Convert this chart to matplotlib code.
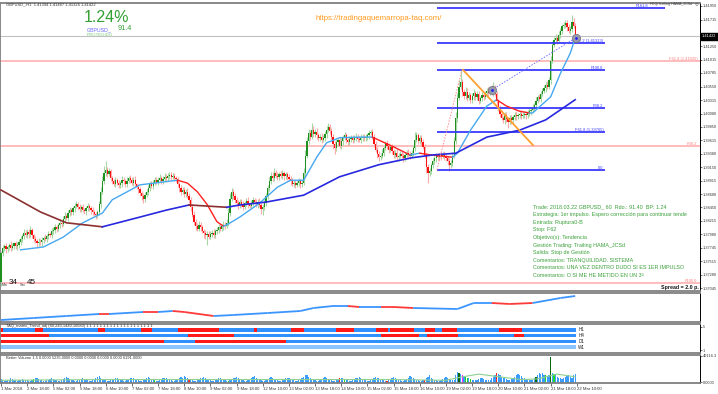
import matplotlib
matplotlib.use("Agg")
import matplotlib.pyplot as plt
from matplotlib.collections import LineCollection
import matplotlib.transforms as mtransforms

plt.rcParams['font.family'] = ['Liberation Sans', 'DejaVu Sans']

# ---------------- DATA ----------------
BASE = 1.37      # prices stored as pips above 1.37000
PIP = 0.0001

first_open = 15
close_rows = [
    [65, 74, 78, 72, 76, 80, 75, 78, 82, 77, 80, 84, 90, 95, 100, 97],
    [102, 98, 105, 96, 90, 86, 83, 85, 84, 88, 92, 90, 95, 99, 97, 103],
    [106, 110, 108, 114, 118, 116, 124, 130, 127, 135, 140, 136, 143, 148, 150, 146],
    [142, 145, 140, 138, 143, 147, 144, 140, 136, 134, 131, 136, 150, 172, 190, 205],
    [210, 203, 208, 196, 190, 186, 192, 188, 183, 187, 193, 190, 186, 191, 196, 192],
    [188, 193, 185, 180, 176, 170, 165, 160, 166, 172, 178, 185, 182, 188, 192, 189],
    [193, 196, 191, 195, 198, 196, 199, 201, 198, 200, 196, 194, 185, 178, 172, 175],
    [168, 172, 165, 158, 145, 132, 120, 112, 108, 115, 110, 104, 100, 96, 99, 94],
    [98, 101, 97, 103, 106, 110, 108, 112, 115, 113, 118, 135, 160, 172, 165, 158],
    [152, 148, 155, 150, 146, 152, 156, 150, 148, 153, 157, 154, 150, 155, 149, 142],
    [145, 152, 165, 178, 190, 200, 196, 205, 200, 198, 203, 200, 204, 199, 202, 198],
    [195, 190, 186, 188, 184, 187, 190, 185, 188, 205, 235, 260, 275, 268, 280, 272],
    [276, 270, 265, 268, 262, 266, 272, 280, 285, 278, 268, 255, 248, 258, 262, 252],
    [260, 266, 270, 262, 258, 263, 266, 262, 265, 268, 264, 262, 266, 268, 265, 267],
    [270, 274, 276, 268, 255, 245, 238, 232, 235, 240, 248, 256, 252, 245, 250, 242],
    [236, 240, 232, 235, 238, 234, 230, 236, 240, 238, 235, 240, 248, 262, 270, 260],
    [266, 258, 250, 235, 215, 205, 208, 218, 226, 230, 234, 232, 236, 234, 237, 233],
    [230, 225, 218, 222, 235, 260, 300, 335, 355, 362, 345, 338, 346, 335, 340, 332],
    [338, 344, 336, 342, 330, 335, 340, 337, 343, 348, 344, 350, 345, 352, 342, 330],
    [318, 308, 300, 296, 305, 298, 294, 300, 296, 302, 306, 303, 305, 308, 304, 306],
    [308, 305, 309, 312, 315, 318, 322, 330, 336, 334, 342, 348, 352, 358, 355, 366],
    [400, 428, 436, 440, 434, 445, 452, 460, 462, 465, 458, 452, 455, 468, 460, 442],
]
wick_up_rows = [
    [4, 6, 3, 5, 4, 3, 6, 4, 3, 5, 4, 6, 5, 4, 8, 5],
    [5, 6, 8, 4, 3, 5, 3, 6, 4, 5, 3, 6, 4, 5, 3, 6],
    [4, 6, 5, 3, 7, 4, 5, 6, 4, 5, 6, 4, 5, 4, 6, 5],
    [5, 4, 6, 3, 5, 6, 4, 3, 5, 4, 3, 5, 6, 8, 10, 12],
    [15, 5, 6, 4, 3, 5, 6, 4, 5, 3, 6, 4, 5, 7, 4, 5],
    [5, 4, 6, 3, 5, 4, 3, 5, 6, 4, 5, 6, 5, 4, 6, 5],
    [5, 6, 4, 5, 6, 4, 5, 6, 5, 4, 5, 4, 3, 4, 5, 6],
    [5, 4, 6, 5, 4, 5, 6, 4, 5, 6, 4, 5, 4, 6, 5, 4],
    [5, 4, 6, 5, 4, 6, 5, 4, 6, 5, 7, 8, 10, 6, 5, 4],
    [5, 6, 4, 5, 6, 4, 5, 6, 4, 5, 6, 4, 5, 4, 6, 4],
    [5, 6, 5, 6, 8, 7, 6, 8, 5, 6, 4, 5, 6, 4, 5, 4],
    [4, 5, 6, 4, 5, 4, 6, 5, 4, 8, 10, 8, 6, 5, 12, 6],
    [5, 6, 4, 5, 6, 4, 5, 6, 7, 5, 4, 5, 6, 5, 4, 6],
    [5, 4, 6, 5, 4, 6, 5, 4, 5, 6, 4, 5, 6, 4, 5, 6],
    [5, 6, 4, 5, 4, 6, 5, 4, 5, 6, 4, 5, 6, 5, 4, 5],
    [5, 4, 6, 5, 4, 5, 6, 4, 5, 6, 4, 5, 6, 14, 6, 5],
    [5, 4, 6, 5, 4, 5, 6, 4, 5, 4, 6, 5, 4, 6, 4, 5],
    [5, 4, 6, 5, 6, 8, 10, 8, 12, 22, 6, 5, 8, 6, 5, 4],
    [5, 6, 4, 5, 6, 4, 5, 6, 5, 4, 6, 5, 8, 11, 6, 5],
    [4, 5, 6, 4, 5, 6, 4, 5, 6, 4, 5, 6, 4, 5, 6, 4],
    [5, 4, 6, 5, 4, 6, 5, 6, 5, 6, 5, 4, 6, 5, 6, 5],
    [8, 6, 5, 6, 5, 6, 5, 4, 6, 5, 6, 5, 6, 11, 6, 5],
]
wick_dn_rows = [
    [7, 4, 5, 6, 4, 5, 6, 4, 5, 4, 6, 5, 4, 6, 5, 4],
    [5, 6, 4, 5, 6, 4, 8, 5, 4, 6, 5, 4, 6, 5, 4, 5],
    [4, 5, 6, 4, 5, 6, 4, 5, 4, 6, 5, 4, 5, 6, 4, 5],
    [5, 6, 4, 5, 6, 4, 5, 6, 4, 5, 6, 4, 5, 6, 4, 5],
    [6, 5, 4, 6, 5, 4, 6, 5, 4, 5, 6, 4, 5, 6, 4, 5],
    [4, 6, 5, 4, 6, 5, 7, 8, 5, 4, 6, 5, 4, 6, 5, 4],
    [5, 4, 6, 5, 4, 5, 6, 4, 5, 4, 6, 5, 4, 6, 5, 4],
    [5, 6, 4, 5, 6, 4, 5, 6, 4, 5, 6, 4, 8, 6, 16, 5],
    [5, 4, 6, 5, 4, 6, 5, 4, 6, 5, 4, 5, 6, 4, 5, 6],
    [5, 6, 4, 5, 6, 4, 5, 6, 4, 5, 6, 4, 5, 6, 4, 8],
    [10, 5, 4, 6, 5, 4, 6, 5, 4, 5, 6, 4, 5, 6, 4, 5],
    [5, 6, 4, 5, 6, 4, 5, 6, 4, 5, 6, 4, 5, 6, 4, 5],
    [5, 6, 4, 5, 6, 4, 5, 6, 4, 5, 6, 8, 10, 5, 6, 4],
    [5, 6, 4, 5, 6, 4, 5, 6, 4, 5, 6, 4, 5, 6, 4, 5],
    [5, 6, 4, 5, 6, 4, 8, 6, 4, 5, 6, 4, 5, 6, 4, 5],
    [6, 5, 4, 6, 5, 4, 6, 5, 4, 5, 6, 4, 5, 6, 4, 5],
    [5, 6, 4, 5, 10, 18, 6, 5, 4, 5, 6, 4, 5, 6, 4, 5],
    [5, 6, 10, 5, 6, 4, 5, 6, 4, 5, 6, 4, 5, 6, 4, 5],
    [5, 6, 4, 5, 6, 4, 5, 6, 4, 5, 6, 4, 5, 6, 4, 8],
    [5, 6, 4, 5, 6, 4, 12, 5, 6, 4, 5, 6, 4, 5, 6, 4],
    [5, 6, 4, 5, 6, 4, 5, 6, 4, 5, 6, 4, 5, 6, 4, 5],
    [6, 5, 4, 6, 5, 4, 6, 5, 4, 5, 6, 4, 5, 6, 4, 5],
]

# moving averages: (colour key, [(bar, pips), ...])
fast_ma = [
    ('up', [(12, 71), (26, 76), (38, 93), (50, 118), (62, 135), (68, 158), (85, 184), (108, 192)]),
    ('dn', [(108, 192), (114, 187), (120, 172), (126, 150), (132, 120), (136, 112)]),
    ('up', [(136, 112), (139, 116), (146, 128), (158, 152), (169, 180), (177, 192), (185, 192),
            (193, 232), (199, 257), (207, 266), (220, 267), (227, 267)]),
    ('dn', [(227, 267), (240, 250), (250, 236)]),
    ('up', [(250, 236), (256, 239)]),
    ('dn', [(256, 239), (263, 236), (276, 232)]),
    ('up', [(276, 232), (279, 239), (287, 279), (297, 321), (303, 332)]),
    ('dn', [(303, 332), (309, 321), (317, 312), (323, 309)]),
    ('up', [(323, 309), (325, 309), (336, 337), (342, 378), (348, 413), (351, 439)]),
]
slow_ma = [
    ('br', [(0, 175), (24, 137), (40, 118), (62, 111)]),
    ('bl', [(62, 111), (85, 128), (101, 140), (115, 149)]),
    ('br', [(115, 149), (138, 145)]),
    ('bl', [(138, 145), (146, 149), (162, 154), (185, 166), (207, 198), (231, 219), (251, 231),
            (264, 236), (278, 239), (297, 267), (317, 279), (333, 297), (351, 332)]),
]

# fibonacci objects
fib_blue_levels = [1.39100, 1.39765, 1.40175, 1.40840, 1.41313, 1.41915]
fib_blue_labels = ["0.0", "F61.8 (1.39765)", "F38.2", "F100.0", "F127.2 (1.41313)", "F161.8"]
fib_blue_start = 266.5
fib_blue_ends = [369.2, 369.2, 369.2, 369.2, 369.2, 405.9]
fib_blue_label_x = [368.2, 368.2, 368.2, 368.2, 368.2, 395.5]
fib_pink_levels = [1.40990, 1.39520, 1.37130]
fib_pink_labels = ["F61.8 (1.41020)", "F38.2", "F100.0"]
bid_price = 1.41422

trend_orange = [(282.4, 384), (325.2, 253)]
trend_pink = [(266.5, 210), (281.8, 384)]
trend_blue = [(300, 349), (351.5, 440)]

ytick_labels = ["1.41950", "1.41715", "1.41250", "1.41015", "1.40785", "1.40550", "1.40315",
                "1.40080", "1.39850", "1.39615", "1.39380", "1.39150", "1.38915", "1.38680",
                "1.38450", "1.38215", "1.37980", "1.37745", "1.37515", "1.37280", "1.37045"]

xtick_labels = ["1 Mar 2018", "2 Mar 18:00", "5 Mar 02:00", "5 Mar 18:00", "6 Mar 10:00",
                "7 Mar 02:00", "7 Mar 18:00", "8 Mar 10:00", "9 Mar 02:00", "9 Mar 18:00",
                "12 Mar 10:00", "13 Mar 02:00", "13 Mar 18:00", "14 Mar 10:00", "15 Mar 02:00",
                "15 Mar 18:00", "16 Mar 10:00", "19 Mar 02:00", "19 Mar 18:00", "20 Mar 10:00",
                "21 Mar 02:00", "21 Mar 18:00", "22 Mar 10:00"]
bars_per_label = 16

# oscillator sub-window: keypoints and colour per segment
osc_pts = [(0, 2), (20, 4), (40, 6), (60, 8), (66, 8), (87, 10), (96, 10), (105, 11), (112, 10),
           (130, 6), (142, 7), (163, 9), (183, 11), (191, 14), (203, 16), (212, 16), (219, 15),
           (232, 15), (240, 15), (252, 14), (279, 13), (289, 19), (300, 19), (311, 18), (325, 19),
           (342, 24), (351, 26)]
osc_seg_col = "bbbrbrbrrbbbbbbrbrrbbbrrbb"

# TAQ matrix: red (bearish) bar ranges per timeframe row
taq_rows = ["H1", "H4", "D1", "W1"]
taq_red = {
    "H1": [(0, 1), (21, 25), (60, 63), (86, 92), (109, 133), (155, 156), (178, 185), (205, 215),
           (230, 236), (238, 252), (260, 265), (270, 278), (305, 318)],
    "H4": [(0, 29), (115, 142), (233, 255), (261, 279), (314, 319)],
    "D1": [(0, 99), (119, 174)],
    "W1": [],
}

# Better Volume (thousands)
vol_rows = [
    [6, 4, 3, 3, 4, 5, 7, 6, 5, 4, 3, 4, 5, 6, 5, 4],
    [4, 3, 3, 4, 6, 8, 7, 6, 5, 4, 3, 3, 4, 5, 6, 7],
    [6, 5, 4, 3, 3, 4, 6, 7, 9, 8, 6, 5, 4, 3, 3, 4],
    [5, 6, 7, 6, 5, 4, 3, 3, 4, 5, 7, 9, 10, 8, 6, 5],
    [4, 3, 3, 4, 5, 6, 8, 7, 6, 5, 4, 3, 3, 4, 5, 7],
    [8, 7, 6, 5, 4, 3, 3, 4, 6, 8, 9, 7, 6, 5, 4, 3],
    [3, 4, 5, 7, 8, 7, 6, 5, 4, 3, 3, 4, 6, 7, 9, 8],
    [10, 9, 7, 6, 5, 4, 3, 3, 4, 5, 7, 8, 9, 7, 6, 5],
    [4, 3, 3, 4, 6, 7, 8, 6, 5, 4, 3, 3, 4, 5, 7, 8],
    [9, 7, 6, 5, 4, 3, 3, 4, 5, 7, 9, 10, 8, 6, 5, 4],
    [3, 3, 4, 6, 8, 9, 7, 6, 5, 4, 3, 3, 4, 5, 7, 8],
    [7, 6, 5, 4, 3, 3, 4, 5, 7, 9, 11, 12, 9, 7, 6, 5],
    [4, 3, 3, 4, 6, 8, 9, 7, 6, 5, 4, 3, 3, 4, 6, 7],
    [8, 7, 6, 5, 4, 3, 3, 4, 5, 7, 8, 9, 8, 6, 5, 4],
    [3, 3, 4, 6, 8, 9, 8, 7, 6, 5, 4, 3, 3, 4, 5, 7],
    [9, 8, 6, 5, 4, 3, 3, 4, 6, 8, 10, 9, 7, 6, 5, 4],
    [3, 3, 4, 5, 7, 9, 11, 8, 6, 5, 4, 3, 3, 4, 6, 8],
    [9, 8, 6, 5, 4, 5, 12, 16, 14, 13, 11, 10, 9, 8, 7, 6],
    [5, 4, 4, 5, 6, 8, 7, 6, 5, 4, 4, 5, 7, 9, 12, 14],
    [13, 11, 9, 8, 7, 6, 5, 5, 6, 7, 9, 11, 13, 12, 10, 8],
    [7, 6, 5, 4, 4, 5, 7, 9, 12, 14, 13, 15, 12, 11, 10, 12],
    [38, 14, 13, 11, 9, 8, 7, 6, 8, 9, 10, 12, 9, 8, 11, 13],
]
vol_special = {20: 'g', 94: 'g', 115: 'r', 139: 'g', 207: 'r', 210: 'g', 236: 'r', 259: 'r',
               280: 'dg', 282: 'm', 284: 'g', 285: 'g', 287: 'g', 303: 'r', 327: 'dg',
               333: 'g', 336: 'dg', 338: 'g'}
vol_ma = [(0, 4), (60, 5), (120, 5), (180, 5), (240, 5), (272, 4), (282, 9), (292, 13),
          (305, 9), (318, 5), (328, 6), (340, 13), (351, 9)]

# ---------------- FIGURE ----------------
W, H = 718, 394
fig = plt.figure(figsize=(W / 100, H / 100), dpi=100)
fig.patch.set_facecolor('white')


def fx(x):
    return x / W


def fy(y):
    return 1 - y / H


def price(p):
    return BASE + p * PIP


closes = [v for r in close_rows for v in r]
wick_up = [v for r in wick_up_rows for v in r]
wick_dn = [v for r in wick_dn_rows for v in r]
n = len(closes)
opens = [first_open] + closes[:-1]

XL = (-0.6, 427.3)
AXW = 700 / W
GRAY = '#808080'


def style_panel(a):
    a.set_xlim(*XL)
    a.set_facecolor('white')
    for s in ['left', 'top', 'bottom']:
        a.spines[s].set_color(GRAY)
        a.spines[s].set_linewidth(1.3)
    a.spines['right'].set_color('black')
    a.spines['right'].set_linewidth(0.7)
    a.tick_params(axis='x', bottom=False, labelbottom=False)


YTK = dict(labelsize=2.8, length=1.5, width=0.5, pad=0.6, colors='#333333')

# ---- main price panel ----
ax = fig.add_axes([0, fy(291), AXW, (291 - 3) / H])
style_panel(ax)
ax.set_ylim(1.36994, 1.42002)
ax.yaxis.tick_right()
ax.set_yticks([float(s) for s in ytick_labels])
ax.set_yticklabels(ytick_labels)
ax.tick_params(axis='y', **YTK)

# candles
wick_segs, wick_cols = [], []
bx, bb, bh, bc = [], [], [], []
for i in range(n):
    o, c = opens[i], closes[i]
    hi = max(o, c) + wick_up[i]
    lo = min(o, c) - wick_dn[i]
    bull = c >= o
    wick_segs.append([(i, price(lo)), (i, price(hi))])
    wick_cols.append('#a6d8a6' if bull else '#ffaaaa')
    bx.append(i)
    bb.append(price(min(o, c)))
    bh.append(max(abs(c - o), 0.6) * PIP)
    bc.append('#1f8f1f' if bull else '#ff1010')
ax.add_collection(LineCollection(wick_segs, colors=wick_cols, linewidths=0.8, zorder=2))
ax.bar(bx, bh, bottom=bb, width=0.75, color=bc, linewidth=0, zorder=3)

# lines across
blend = mtransforms.blended_transform_factory(ax.transAxes, ax.transData)
for lv, lb in zip(fib_pink_levels, fib_pink_labels):
    ax.axhline(lv, color='#ffb0b0', lw=1.2, zorder=1)
    ax.text(0.996, lv, lb, transform=blend, ha='right', va='bottom', fontsize=2.9, color='#ff8080')
ax.axhline(bid_price, color='#c0c0c0', lw=0.8, zorder=1)

for lv, lb, xe, xl in zip(fib_blue_levels, fib_blue_labels, fib_blue_ends, fib_blue_label_x):
    ax.hlines(lv, fib_blue_start, xe, color='#3a3aff', lw=1.3, zorder=4)
    ax.text(xl, lv, lb, ha='right', va='bottom', fontsize=2.9, color='#3a3aff', zorder=5)

# moving averages
fast_col = {'up': '#46a8f0', 'dn': '#ff2020'}
for k, pts in fast_ma:
    ax.plot([p[0] for p in pts], [price(p[1]) for p in pts], color=fast_col[k], lw=1.0, zorder=6)
slow_col = {'br': '#8b2f2f', 'bl': '#2828e0'}
for k, pts in slow_ma:
    ax.plot([p[0] for p in pts], [price(p[1]) for p in pts], color=slow_col[k], lw=1.2, zorder=6)

# trend lines
ax.plot([p[0] for p in trend_orange], [price(p[1]) for p in trend_orange], color='#ffa030', lw=1.3, zorder=7)
ax.plot([p[0] for p in trend_pink], [price(p[1]) for p in trend_pink], color='#ff9090', lw=0.7,
        ls=(0, (1.5, 1.5)), zorder=7)
ax.plot([p[0] for p in trend_blue], [price(p[1]) for p in trend_blue], color='#7070ff', lw=0.7,
        ls=(0, (1.5, 1.5)), zorder=7)
for p in trend_blue:
    ax.plot(p[0], price(p[1]), 'o', ms=6, mfc='#9a9aa8', mec='#707080', mew=0.5, zorder=8)
    ax.plot(p[0], price(p[1]), 'o', ms=2, mfc='#2020ff', mec='none', zorder=9)

# bid label
ax.text(1.003, bid_price, "1.41422", transform=blend,
        ha='left', va='center', fontsize=2.8, color='white',
        bbox=dict(boxstyle='square,pad=0.3', fc='black', ec='black'), zorder=10, clip_on=False)

# ---- oscillator panel ----
ax2 = fig.add_axes([0, fy(322), AXW, (322 - 293) / H])
style_panel(ax2)
ax2.set_ylim(0, 29)
ax2.set_yticks([])
oc = {'b': '#3b95ff', 'r': '#ff3a3a'}
for j in range(len(osc_pts) - 1):
    a, b = osc_pts[j], osc_pts[j + 1]
    ax2.plot([a[0], b[0]], [a[1], b[1]], color=oc[osc_seg_col[j]], lw=1.3, solid_capstyle='butt')

# ---- TAQ matrix panel ----
ax3 = fig.add_axes([0, fy(353), AXW, (353 - 324) / H])
style_panel(ax3)
ax3.set_ylim(0.5, 5.5)
ax3.yaxis.tick_right()
ax3.set_yticks([1, 5])
ax3.set_yticklabels(["1", "5"])
ax3.tick_params(axis='y', **YTK)
row_y = [4.5, 3.5, 2.5, 1.5]
for name, yv in zip(taq_rows, row_y):
    base_col = '#8cc4ff' if name == 'W1' else '#3090ff'
    ax3.broken_barh([(-0.5, n)], (yv - 0.3, 0.6), facecolors=base_col)
    if taq_red[name]:
        ax3.broken_barh([(s - 0.5, e - s + 1) for s, e in taq_red[name]], (yv - 0.3, 0.6), facecolors='#ff1a1a')
    ax3.text(n + 1, yv, name, fontsize=3.3, va='center', ha='left', color='#222222')
ax3.text(3, 5.15, "TAQ_matrix_Trend_adj (60,240,1440,10080) " + "1 " * 20, fontsize=2.9,
         va='center', ha='left', color='#333333')

# ---- volume panel ----
ax4 = fig.add_axes([0, fy(383), AXW, (383 - 355) / H])
style_panel(ax4)
ax4.set_ylim(0, 41000)
ax4.yaxis.tick_right()
ax4.set_yticks([1000, 40116.3])
ax4.set_yticklabels(["0.0000", "40116.3"])
ax4.tick_params(axis='y', **YTK)
vols = [v * 1000 for r in vol_rows for v in r]
vcmap = {'b': '#3a9cff', 'g': '#22dd22', 'dg': '#0a6a0a', 'r': '#ff2020', 'm': '#ff20ff'}
vcols = [vcmap[vol_special.get(i, 'b')] for i in range(len(vols))]
ax4.bar(range(len(vols)), vols, width=0.75, color=vcols, linewidth=0)
ax4.plot([p[0] for p in vol_ma], [p[1] * 1000 for p in vol_ma], color='#90d090', lw=0.8)
ax4.text(3, 36000, "Better Volume 1.5 0.0000 5235.0000 0.0000 0.0000 0.0000 0.0000 6191.0000",
         fontsize=2.9, va='center', ha='left', color='#333333')
ax4.set_xticks([k * bars_per_label for k in range(len(xtick_labels))])
ax4.set_xticklabels(xtick_labels, ha='left')
ax4.tick_params(axis='x', bottom=True, labelbottom=True, labelsize=3.1, length=2, width=0.5,
                pad=1, colors='#333333')

# ---- texts ----
fig.text(fx(6), fy(4), "GBPUSD_,H1  1.41394 1.41487 1.41326 1.41422", fontsize=2.9, va='center',
         ha='left', color='#333333')
fig.text(fx(84), fy(18), "1.24%", fontsize=11.5, color='#32a032', va='center', ha='left')
fig.text(fx(87), fy(29.5), "GBPUSD_", fontsize=3.8, color='#6a6aff', va='center', ha='left')
fig.text(fx(118), fy(28.5), "91.4", fontsize=5.2, color='#32a032', va='center', ha='left')
fig.text(fx(87), fy(35.5), "PROTEGIDO", fontsize=3.2, color='#77c877', va='center', ha='left')
fig.text(fx(316), fy(19), "https://tradingaquemarropa-taq.com/", fontsize=5.6, color='#ff9a1e',
         va='center', ha='left')
fig.text(fx(650), fy(4.5), "FEQ/Trailing HAMA_JCSd", fontsize=2.6, color='#444444', va='center', ha='left')
fig.text(fx(694.5), fy(4.5), "\u25CE", fontsize=3.2, color='#555555', va='center', ha='left',
         family='DejaVu Sans')

fig.text(fx(2), fy(284.5), "Min", fontsize=2.6, color='#333333', va='center', ha='left')
fig.text(fx(9), fy(283), "34", fontsize=5.8, color='#111111', va='center', ha='left')
fig.text(fx(20), fy(284.5), "Sec", fontsize=2.6, color='#333333', va='center', ha='left')
fig.text(fx(27), fy(283), "45", fontsize=5.8, color='#111111', va='center', ha='left')
fig.text(fx(699), fy(287), "Spread = 2.0 p.", fontsize=3.8, fontweight='bold', color='#111111',
         va='center', ha='right')

comment_lines = [
    "Trade: 2018.03.22 GBPUSD_ 60  Rdo.: 91.40  BP: 1.24",
    "Estrategia: 1er impulso. Espero corrección para continuar tende",
    "Entrada: Ruptura0-B",
    "Stop: F62",
    "Objetivo(s): Tendencia",
    "Gestión Trading: Trailing HAMA_JCSd",
    "Salida: Stop de Gestión",
    "Comentarios: TRANQUILIDAD. SISTEMA",
    "Comentarios: UNA VEZ DENTRO DUDO SI ES 1ER IMPULSO",
    "Comentarios: O SI ME HE METIDO EN UN 3ª",
]
for k, line in enumerate(comment_lines):
    fig.text(fx(533), fy(207 + k * 7.6), line, fontsize=3.9, color='#3aa03a', va='center', ha='left')

fig.savefig("out.png", dpi=100, facecolor='white')
